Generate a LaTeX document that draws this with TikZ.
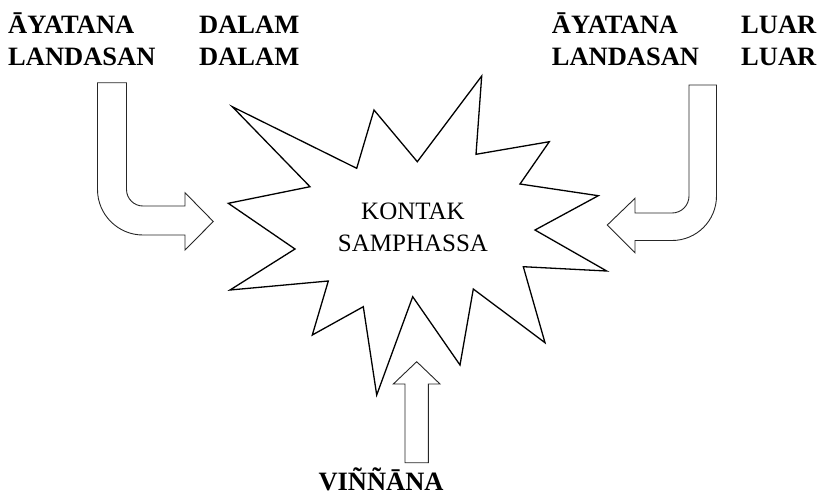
\documentclass[tikz,border=0pt]{standalone}
\usepackage{fontspec}
\setmainfont{Liberation Serif}
\begin{document}
\begin{tikzpicture}[x=1pt,y=-1pt,
  label/.style={font=\fontsize{26.5}{30}\selectfont\bfseries, inner sep=0pt, text depth=0pt, anchor=base west},
  centre/.style={font=\fontsize{25}{30}\selectfont, inner sep=0pt, anchor=base},
  burst/.style={draw=black, line width=1.3pt, line join=miter, fill=white},
  blockarrow/.style={draw=black!85, line width=0.9pt, fill=white, line join=miter}]
\useasboundingbox (0,0) rectangle (818,496);

% headings
\node[label] (al) at (8,33) {ĀYATANA};
\node[label] (ll) at (8,65) {LANDASAN};
\node[label] (dl1) at (199,33) {DALAM};
\node[label] (dl2) at (199,65) {DALAM};
\node[label] (ar) at (551.7,33) {ĀYATANA};
\node[label] (lr) at (551.7,65) {LANDASAN};
\node[label] (lu1) at (741,33) {LUAR};
\node[label] (lu2) at (741,65) {LUAR};
\node[label] (vi) at (318.3,490.5) {VIÑÑĀNA};

% the burst
\draw[burst] (232.3,106.7) -- (356.7,168.3) -- (374,110) -- (417.3,161.7)
  -- (481.7,76) -- (476,154.3) -- (549.3,141.7) -- (520,184)
  -- (598.3,195.7) -- (535,230) -- (606.7,271) -- (523.3,266.7)
  -- (545,342.7) -- (473.3,289) -- (460,365) -- (412.7,296.7)
  -- (376.7,395) -- (363.3,306.7) -- (312.3,335) -- (328.3,281)
  -- (230,290) -- (295,249) -- (228.3,203.3) -- (310,186.7) -- cycle;
\node[centre] (k1) at (413,219.3) {KONTAK};
\node[centre] (k2) at (413,251) {SAMPHASSA};

% bent arrow from the left
\draw[blockarrow] (97.5,82.7) -- (126.5,82.7) -- (126.5,189.5)
  .. controls (126.5,198.6) and (133.9,206) .. (143,206)
  -- (185,206) -- (185,192.7) -- (213.3,221.5) -- (185,250) -- (185,235)
  -- (143,235) .. controls (117.9,235) and (97.5,214.6) .. (97.5,189.5)
  -- cycle;

% bent arrow from the right
\draw[blockarrow] (689,85) -- (716.5,85) -- (716.5,196)
  .. controls (716.5,220.6) and (696.6,240.5) .. (672,240.5)
  -- (635,240.5) -- (635,252.7) -- (607.3,225) -- (635,198.3) -- (635,213)
  -- (672,213) .. controls (681.4,213) and (689,205.4) .. (689,196)
  -- cycle;

% straight arrow from below
\draw[blockarrow] (405,462.7) -- (405,384) -- (393.3,384) -- (416.7,361.7)
  -- (440,384) -- (428.3,384) -- (428.3,462.7) -- cycle;
\end{tikzpicture}
\end{document}
